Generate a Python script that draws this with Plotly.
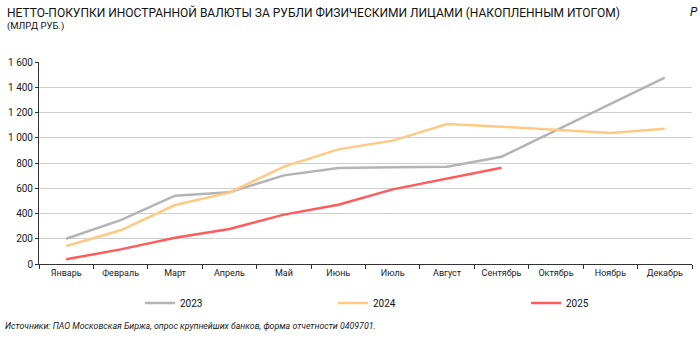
import plotly.graph_objects as go

months = ["Январь", "Февраль", "Март", "Апрель", "Май", "Июнь", "Июль",
          "Август", "Сентябрь", "Октябрь", "Ноябрь", "Декабрь"]
v2023 = [200, 348, 541, 568, 702, 760, 766, 771, 850, 1060, 1270, 1477]
v2024 = [143, 267, 467, 565, 771, 908, 977, 1109, 1088, 1061, 1038, 1072]
v2025 = [37, 116, 208, 277, 391, 470, 591, 678, 763]
series = [("2023", v2023, "#b4b4b4"), ("2024", v2024, "#ffc984"), ("2025", v2025, "#ff5b5b")]

font_narrow = "Liberation Sans Narrow, Arial Narrow, Roboto, sans-serif"
L, W, T, H = 39, 653, 62, 202
legend_px = [140, 333, 526]

fig = go.Figure()
legend_layout = {}
for i, (name, vals, col) in enumerate(series):
    lname = "legend" if i == 0 else f"legend{i+1}"
    fig.add_trace(go.Scatter(x=months[:len(vals)], y=vals, name=name, mode="lines",
                             line=dict(color=col, width=2.5), legend=lname))
    legend_layout[lname] = dict(orientation="h", x=(legend_px[i] - L) / W, xanchor="left",
                                y=(264 - 303) / H, yanchor="middle", bgcolor="rgba(0,0,0,0)",
                                font=dict(family=font_narrow, size=10, color="#111"),
                                itemwidth=30)

fig.update_layout(
    width=700, height=340,
    margin=dict(l=L, r=8, t=T, b=76),
    paper_bgcolor="white", plot_bgcolor="white",
    separators=". ",
    font=dict(family=font_narrow, size=9, color="#222"),
    showlegend=True,
    xaxis=dict(type="category", categoryorder="array", categoryarray=months,
               range=[-0.5, 11.5], showgrid=False, showline=True, linecolor="#333",
               linewidth=1, ticks="outside", tickson="boundaries", ticklen=4,
               tickcolor="#333", tickfont=dict(size=9, color="#222")),
    yaxis=dict(range=[0, 1600], dtick=200, showgrid=True, gridcolor="#d0d0d0",
               gridwidth=1, showline=True, linecolor="#333", linewidth=1,
               ticks="outside", ticklen=3, tickcolor="#333", zeroline=False,
               tickformat=",d", tickfont=dict(size=10, color="#222")),
    annotations=[
        dict(text="НЕТТО-ПОКУПКИ ИНОСТРАННОЙ ВАЛЮТЫ ЗА РУБЛИ ФИЗИЧЕСКИМИ ЛИЦАМИ (НАКОПЛЕННЫМ ИТОГОМ)",
             xref="paper", yref="paper", x=-34/W, y=1 + 50/H, xanchor="left", yanchor="middle",
             showarrow=False, font=dict(family=font_narrow, size=12, color="#111")),
        dict(text="(МЛРД РУБ.)", xref="paper", yref="paper", x=-34/W, y=1 + 36/H,
             xanchor="left", yanchor="middle", showarrow=False,
             font=dict(family=font_narrow, size=9.5, color="#111")),
        dict(text="<i>Р</i>", xref="paper", yref="paper", x=1 + 8/W, y=1 + 50/H,
             xanchor="right", yanchor="middle", showarrow=False,
             font=dict(family=font_narrow, size=12, color="#111")),
        dict(text="<i>Источники: ПАО Московская Биржа, опрос крупнейших банков, форма отчетности 0409701.</i>",
             xref="paper", yref="paper", x=-36/W, y=-62/H, xanchor="left", yanchor="middle",
             showarrow=False, font=dict(family=font_narrow, size=8.8, color="#222")),
    ],
    **legend_layout,
)
fig.write_html("out.html")
